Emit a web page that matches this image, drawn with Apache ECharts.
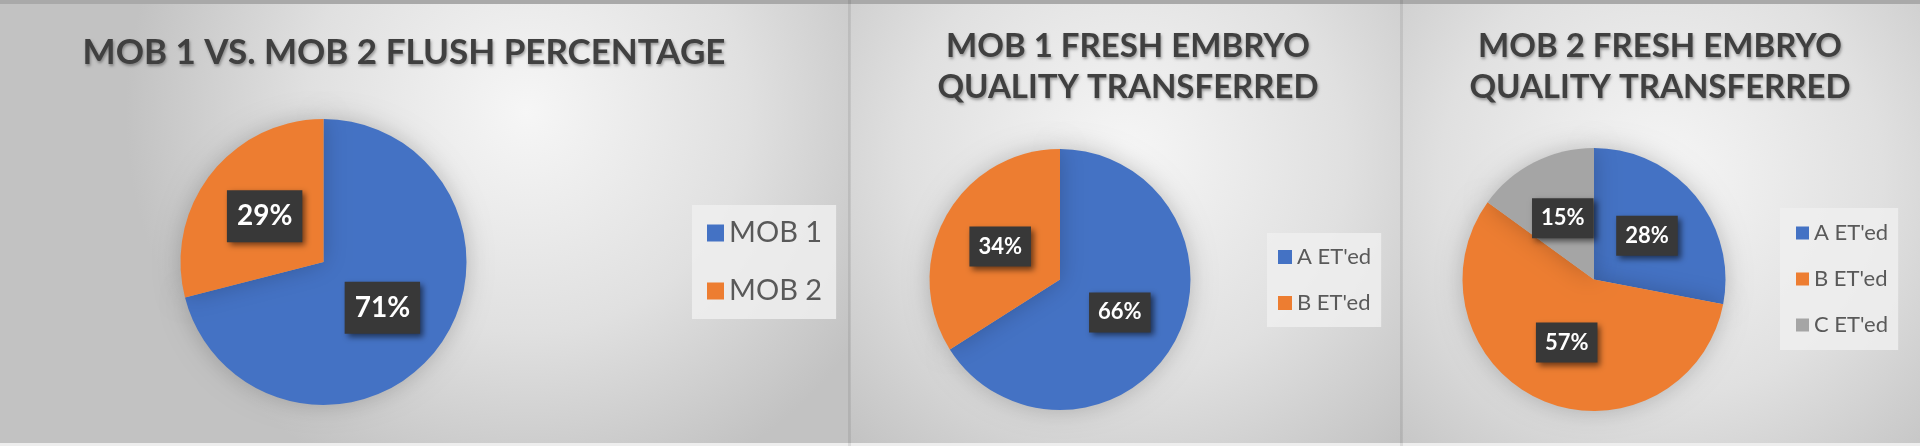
<!DOCTYPE html>
<html>
<head>
<meta charset="utf-8">
<script src="https://cdn.jsdelivr.net/npm/echarts@6/dist/echarts.min.js"></script>
<style>
html,body{margin:0;padding:0;background:#d9d9d9;}
#c{width:1920px;height:446px;}
</style>
</head>
<body>
<div id="c"></div>
<script>
// ---- data ----
var flushCategories = ['MOB 1', 'MOB 2'];
var flushValues = [71, 29];
var mob1QualityCategories = ["A ET'ed", "B ET'ed"];
var mob1QualityValues = [66, 34];
var mob2QualityCategories = ["A ET'ed", "B ET'ed", "C ET'ed"];
var mob2QualityValues = [28, 57, 15];
var titles = ['MOB 1 VS. MOB 2 FLUSH PERCENTAGE', 'MOB 1 FRESH EMBRYO\nQUALITY TRANSFERRED', 'MOB 2 FRESH EMBRYO\nQUALITY TRANSFERRED'];

var palette = ['#4472C4', '#ED7D31', '#A5A5A5'];
var FONT = 'Lato';

function buildData(cats, vals) {
  return cats.map(function (n, i) {
    return { name: n, value: vals[i], itemStyle: { color: palette[i] } };
  });
}

function bg(x, w, cx, cy) {
  return {
    type: 'rect', silent: true, z: -10,
    shape: { x: x, y: 0, width: w, height: 446 },
    style: {
      fill: new echarts.graphic.RadialGradient(cx, cy, 0.9, [
        { offset: 0, color: '#f6f6f6' },
        { offset: 0.55, color: '#e0e0e0' },
        { offset: 1, color: '#c2c2c2' }
      ])
    }
  };
}

function labelStyle(fs, pad) {
  return {
    show: true, position: 'inside', formatter: '{c}%',
    color: '#ffffff', fontFamily: FONT, fontWeight: 'bold', fontSize: fs,
    backgroundColor: '#383838', padding: pad,
    shadowColor: 'rgba(0,0,0,0.55)', shadowBlur: 6, shadowOffsetX: 3, shadowOffsetY: 3
  };
}

function pieSeries(name, data, center, radius, fs, pad) {
  return {
    type: 'pie', name: name, center: center, radius: radius,
    startAngle: 90, clockwise: true, avoidLabelOverlap: false,
    data: data,
    label: labelStyle(fs, pad),
    labelLine: { show: false },
    itemStyle: { shadowBlur: 25, shadowColor: 'rgba(0,0,0,0.22)' },
    emphasis: { scale: false }
  };
}

var titleStyle = {
  color: '#404040', fontFamily: FONT, fontWeight: 'bold',
  textShadowColor: 'rgba(0,0,0,0.35)', textShadowBlur: 3, textShadowOffsetX: 1, textShadowOffsetY: 2
};

function legend(names, left, top, fs, icon, gap, lh, pad) {
  return {
    data: names, orient: 'vertical', left: left, top: top,
    icon: 'rect', itemWidth: icon, itemHeight: icon, itemGap: gap,
    padding: pad, backgroundColor: 'rgba(238,238,238,0.85)',
    textStyle: { color: '#595959', fontFamily: FONT, fontSize: fs, lineHeight: lh },
    selectedMode: false
  };
}

var chart = echarts.init(document.getElementById('c'), null, { renderer: 'canvas' });
chart.setOption({
  animation: false,
  graphic: [
    bg(0, 850, 0.62, 0.25),
    bg(850, 552, 0.5, 0.35),
    bg(1402, 518, 0.5, 0.4),
    { type: 'rect', silent: true, z: -5, shape: { x: 0, y: 0, width: 1920, height: 4 }, style: { fill: '#a9a9a9' } },
    { type: 'rect', silent: true, z: -5, shape: { x: 0, y: 443, width: 1920, height: 3 }, style: { fill: '#eeeeee' } },
    { type: 'rect', silent: true, z: -5, shape: { x: 848, y: 0, width: 3, height: 446 }, style: { fill: 'rgba(0,0,0,0.08)' } },
    { type: 'rect', silent: true, z: -5, shape: { x: 1400, y: 0, width: 3, height: 446 }, style: { fill: 'rgba(0,0,0,0.08)' } }
  ],
  title: [
    { text: titles[0], left: 404, top: 53, textAlign: 'center', textVerticalAlign: 'middle', padding: 0,
      textStyle: Object.assign({}, titleStyle, { fontSize: 35 }) },
    { text: titles[1], left: 1128, top: 67, textAlign: 'center', textVerticalAlign: 'middle', padding: 0,
      textStyle: Object.assign({}, titleStyle, { fontSize: 33, lineHeight: 41 }) },
    { text: titles[2], left: 1660, top: 67, textAlign: 'center', textVerticalAlign: 'middle', padding: 0,
      textStyle: Object.assign({}, titleStyle, { fontSize: 33, lineHeight: 41 }) }
  ],
  legend: [
    legend(flushCategories, 692, 205, 29, 17, 28, 30, [13, 14, 13, 15]),
    legend(mob1QualityCategories, 1267, 233, 22, 14, 22, 24, [12, 10, 12, 11]),
    legend(mob2QualityCategories, 1780, 208, 22, 13, 22, 24, [13, 10, 13, 16])
  ],
  series: [
    pieSeries('flush', buildData(flushCategories, flushValues), [323.5, 262], 143, 28, [12, 10]),
    pieSeries('mob1', buildData(mob1QualityCategories, mob1QualityValues), [1060, 279.5], 130.5, 22, [9, 9]),
    pieSeries('mob2', buildData(mob2QualityCategories, mob2QualityValues), [1594, 279.5], 131.5, 22, [9, 9])
  ]
});
</script>
</body>
</html>
